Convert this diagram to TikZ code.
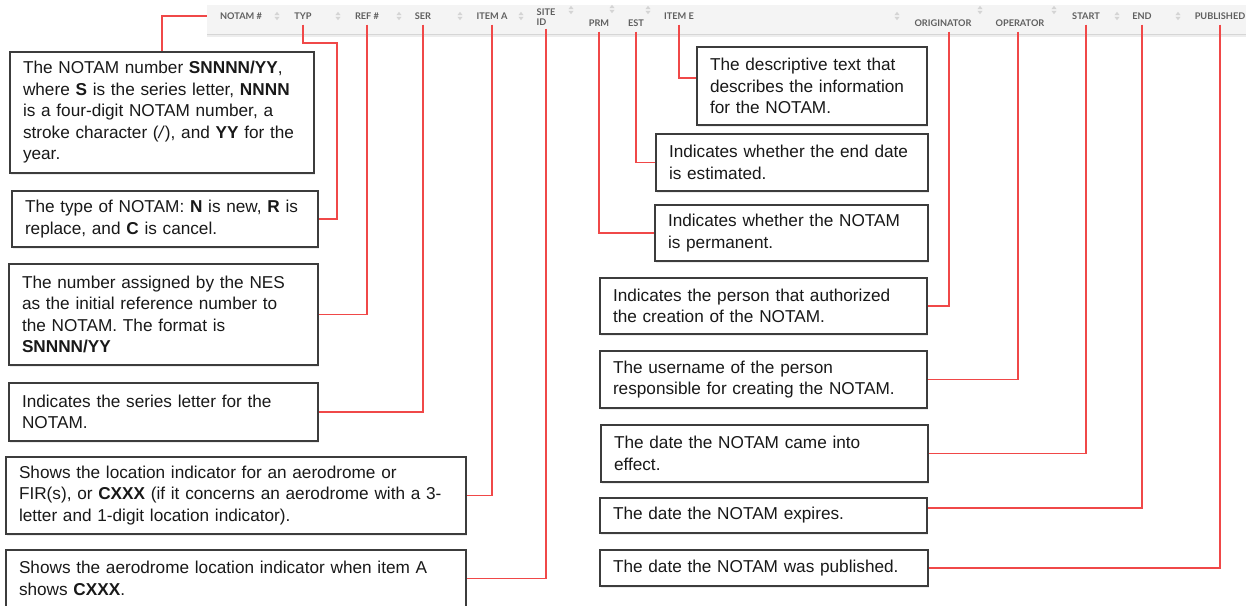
\documentclass[tikz,border=0pt]{standalone}
\usepackage{fontspec}
\setmainfont{Liberation Sans}
\newfontfamily\latofont{Lato}
\usetikzlibrary{calc,shadows}
\definecolor{linered}{RGB}{240,72,72}
\definecolor{boxc}{RGB}{60,60,60}
\definecolor{hdrfill}{RGB}{244,244,244}
\definecolor{hdrtext}{RGB}{95,95,95}
\definecolor{iconc}{RGB}{212,212,212}
\begin{document}
\begin{tikzpicture}[x=1pt,y=-1pt,
  box/.style={draw=boxc, line width=1.2pt, fill=white, align=left,
    inner xsep=13pt, inner ysep=0pt, text=black!90,
    font=\fontsize{17.2}{21.5}\selectfont,
    drop shadow={opacity=0.15, shadow xshift=1.2pt, shadow yshift=-1.5pt}},
  hdr/.style={font=\latofont\bfseries\fontsize{9.2}{11}\selectfont, text=hdrtext,
    inner xsep=1pt, inner ysep=5pt},
  hdrone/.style={hdr, text height=6.6pt, text depth=0pt},
  conn/.style={draw=linered, line width=1.4pt},
  sorticon/.pic={
    \fill[iconc] (-2.6,-0.8) -- (0,-4.2) -- (2.6,-0.8) -- cycle;
    \fill[iconc] (-2.6,0.8) -- (0,4.2) -- (2.6,0.8) -- cycle;}
]
\useasboundingbox (0,0) rectangle (1246,605);

% header bar
\fill[hdrfill] (207,5) rectangle (1246,34);
\draw[black!16, line width=1.2pt] (207,34.6) -- (1246,34.6);
\draw[black!7, line width=1.5pt] (207,36.2) -- (1246,36.2);

% sort icons
\foreach \ix/\iy in {277/16, 338/16, 399/16, 460/16, 521/16, 571/10, 612/9,
  648/10, 897/16, 980/10, 1054/10, 1117/16, 1178/16}
  \pic at (\ix,\iy) {sorticon};

% header labels
\node[hdrone] (h-notam) at (241,16) {NOTAM \#};
\node[hdrone] (h-typ)   at (303,16) {TYP};
\node[hdrone] (h-ref)   at (367,16) {REF \#};
\node[hdrone] (h-ser)   at (423,16) {SER};
\node[hdrone] (h-itema) at (492,16) {ITEM A};
\node[hdr, align=left, inner ysep=3pt] (h-site) at (546,17) {SITE\\[-1pt]ID};
\node[hdrone] (h-prm)   at (599,23) {PRM};
\node[hdrone] (h-est)   at (636,23) {EST};
\node[hdrone] (h-iteme) at (679,16) {ITEM E};
\node[hdrone] (h-orig)  at (943,23) {ORIGINATOR};
\node[hdrone] (h-oper)  at (1020,23) {OPERATOR};
\node[hdrone] (h-start) at (1086,16) {START};
\node[hdrone] (h-end)   at (1142,16) {END};
\node[hdrone] (h-pub)   at (1220,16) {PUBLISHED};

% left boxes
\node[box, minimum width=304, minimum height=121, text width=278] (b-notam) at (162,112.5)
  {The NOTAM number \textbf{SNNNN/YY},\\ where \textbf{S} is the series letter, \textbf{NNNN}\\
   is a four-digit NOTAM number, a\\ stroke character (\textit{/}), and \textbf{YY} for the\\ year.};
\node[box, minimum width=306, minimum height=56, text width=280] (b-typ) at (165,219)
  {The type of NOTAM: \textbf{N} is new, \textbf{R} is\\ replace, and \textbf{C} is cancel.};
\node[box, minimum width=309, minimum height=101, text width=283] (b-ref) at (163.5,314.5)
  {The number assigned by the NES\\ as the initial reference number to\\ the NOTAM. The format is\\ \textbf{SNNNN/YY}};
\node[box, minimum width=309, minimum height=58, text width=283] (b-ser) at (163.5,412)
  {Indicates the series letter for the\\ NOTAM.};
\node[box, minimum width=460, minimum height=77, text width=434] (b-loc) at (236,495.5)
  {Shows the location indicator for an aerodrome or\\ FIR(s), or \textbf{CXXX} (if it concerns an aerodrome with a 3-\\ letter and 1-digit location indicator).};
\node[box, minimum width=460, minimum height=57, text width=434] (b-aer) at (236,578.5)
  {Shows the aerodrome location indicator when item A\\ shows \textbf{CXXX}.};

% right boxes
\node[box, minimum width=230, minimum height=78, text width=204] (b-iteme) at (812,86)
  {The descriptive text that\\ describes the information\\ for the NOTAM.};
\node[box, minimum width=272, minimum height=57, text width=246] (b-est) at (792,162.5)
  {Indicates whether the end date\\ is estimated.};
\node[box, minimum width=273, minimum height=56, text width=247] (b-prm) at (791.5,233)
  {Indicates whether the NOTAM\\ is permanent.};
\node[box, minimum width=327, minimum height=56, text width=301] (b-orig) at (763.5,306)
  {Indicates the person that authorized\\ the creation of the NOTAM.};
\node[box, minimum width=327, minimum height=57, text width=301] (b-oper) at (763.5,379.5)
  {The username of the person\\ responsible for creating the NOTAM.};
\node[box, minimum width=327, minimum height=57, text width=301] (b-start) at (764.5,453.5)
  {The date the NOTAM came into\\ effect.};
\node[box, minimum width=327, minimum height=35, text width=301] (b-end) at (763.5,515.5)
  {The date the NOTAM expires.};
\node[box, minimum width=328, minimum height=36, text width=302] (b-pub) at (764,568)
  {The date the NOTAM was published.};

% connectors
\coordinate (typbend) at (337,43);
\draw[conn, shorten <=12pt] (h-notam.west) -| (b-notam.north);
\draw[conn] (h-typ.south) |- (typbend) |- (b-typ.east);
\draw[conn] (h-ref.south) |- (b-ref.east);
\draw[conn] (h-ser.south) |- (b-ser.east);
\draw[conn] (h-itema.south) |- (b-loc.east);
\draw[conn] (h-site.south) |- (b-aer.east);
\draw[conn] (h-prm.south) |- (b-prm.west);
\draw[conn] (h-est.south) |- (b-est.west);
\draw[conn] (h-iteme.south) |- ($(b-iteme.west)+(0,-8)$);
\draw[conn] ([xshift=6pt]h-orig.south) |- (b-orig.east);
\draw[conn] ([xshift=-2pt]h-oper.south) |- (b-oper.east);
\draw[conn] (h-start.south) |- (b-start.east);
\draw[conn] (h-end.south) |- ($(b-end.east)+(0,-7.5)$);
\draw[conn] (h-pub.south) |- (b-pub.east);
\end{tikzpicture}
\end{document}
